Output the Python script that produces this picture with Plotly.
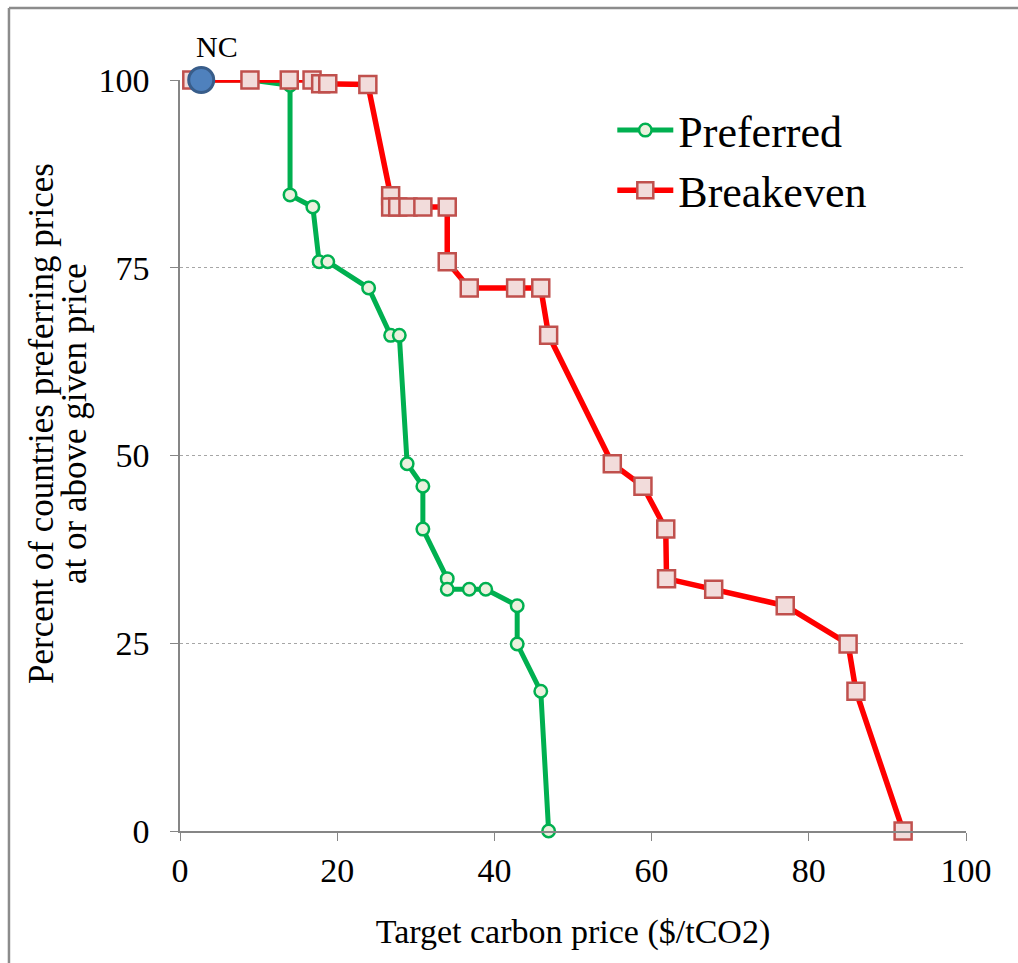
import plotly.graph_objects as go

# Target carbon price ($/tCO2) vs. percent of countries at or above that price
preferred_price = [1.5, 9.0, 14.0, 14.0, 16.9, 17.7, 18.8, 24.0, 26.8, 27.9, 28.9,
                   30.9, 30.9, 34.0, 34.0, 36.8, 38.9, 42.9, 42.9, 45.9, 46.9]
preferred_pct = [100.0, 100.0, 99.3, 84.7, 83.1, 75.8, 75.8, 72.3, 66.0, 66.0, 48.9,
                 45.9, 40.2, 33.6, 32.2, 32.2, 32.2, 30.0, 24.9, 18.6, 0.0]

breakeven_price = [1.5, 8.9, 13.9, 16.8, 17.9, 18.8, 23.9, 26.8, 26.8, 27.7, 29.0,
                   30.9, 34.0, 34.0, 36.8, 42.7, 45.9, 46.9, 55.0, 58.9, 61.8,
                   61.9, 67.9, 77.0, 85.0, 86.0, 92.0]
breakeven_pct = [100.0, 100.0, 100.0, 100.0, 99.5, 99.5, 99.4, 84.6, 83.1, 83.1, 83.1,
                 83.1, 83.1, 75.8, 72.3, 72.3, 72.3, 66.0, 48.9, 45.9, 40.2,
                 33.6, 32.2, 30.0, 24.9, 18.6, 0.0]

nc_price = [2.7]
nc_pct = [100.0]
nc_label = "NC"

x_ticks = [0, 20, 40, 60, 80, 100]
y_ticks = [0, 25, 50, 75, 100]

FONT = "Liberation Serif"
AXIS_GRAY = "#868686"

fig = go.Figure()

fig.add_trace(go.Scatter(
    x=preferred_price, y=preferred_pct, name="Preferred", mode="lines+markers",
    line=dict(color="#00b050", width=5),
    marker=dict(symbol="circle", size=12.5, color="#ebf1de",
                line=dict(color="#00b050", width=2.5)),
    cliponaxis=False,
))

fig.add_trace(go.Scatter(
    x=breakeven_price, y=breakeven_pct, name="Breakeven", mode="lines+markers",
    line=dict(color="#ff0000", width=5.5),
    marker=dict(symbol="square", size=17, color="#f2dcdb",
                line=dict(color="#c0504d", width=2.5)),
    cliponaxis=False,
))

fig.add_trace(go.Scatter(
    x=nc_price, y=nc_pct, mode="markers", showlegend=False,
    marker=dict(symbol="circle", size=25, color="#4f81bd",
                line=dict(color="#385d8a", width=3)),
    cliponaxis=False,
))

fig.add_annotation(
    x=nc_price[0], y=nc_pct[0], text=nc_label, showarrow=False,
    xshift=16, yshift=34, font=dict(family=FONT, size=30, color="black"),
)

# Two-line y-axis title, one rotated text per line
y_title_lines = ["Percent of countries preferring prices", "at or above given price"]
for line_text, px_x in zip(y_title_lines, [42, 75]):
    fig.add_annotation(
        xref="paper", yref="paper", x=(px_x - 180) / 786, y=0.542,
        xanchor="center", yanchor="middle", textangle=-90,
        text=line_text, showarrow=False,
        font=dict(family=FONT, size=35, color="black"),
    )

# Outer chart frame
frame = dict(color="#8c8c8c", width=2.5)
fig.add_shape(type="line", xref="paper", yref="paper",
              x0=-0.2176, x1=1.2, y0=1.0959, y1=1.0959, line=frame)
fig.add_shape(type="line", xref="paper", yref="paper",
              x0=-0.2176, x1=-0.2176, y0=1.0959, y1=-0.25, line=frame)

fig.update_xaxes(
    range=[0, 100], tickvals=x_ticks, ticks="outside", ticklen=8,
    tickcolor=AXIS_GRAY, showline=True, linecolor=AXIS_GRAY, linewidth=1.5,
    showgrid=False, zeroline=False,
    tickfont=dict(family=FONT, size=34, color="black"),
    title=dict(text="Target carbon price ($/tCO2)", standoff=32,
               font=dict(family=FONT, size=34, color="black")),
)
fig.update_yaxes(
    range=[0, 100], tickvals=y_ticks, ticks="outside", ticklen=8,
    tickcolor=AXIS_GRAY, showline=True, linecolor=AXIS_GRAY, linewidth=1.5,
    showgrid=True, gridcolor="#a6a6a6", griddash="dot", gridwidth=1,
    zeroline=False, ticklabelstandoff=14,
    tickfont=dict(family=FONT, size=34, color="black"),
)

fig.update_layout(
    width=1018, height=963,
    margin=dict(l=180, r=52, t=80, b=132, autoexpand=False),
    plot_bgcolor="white", paper_bgcolor="white",
    legend=dict(x=0.55, y=0.98, xanchor="left", yanchor="top",
                font=dict(family=FONT, size=44, color="black"),
                bgcolor="rgba(0,0,0,0)", itemwidth=56, tracegroupgap=0),
)

fig.write_html("out.html")
